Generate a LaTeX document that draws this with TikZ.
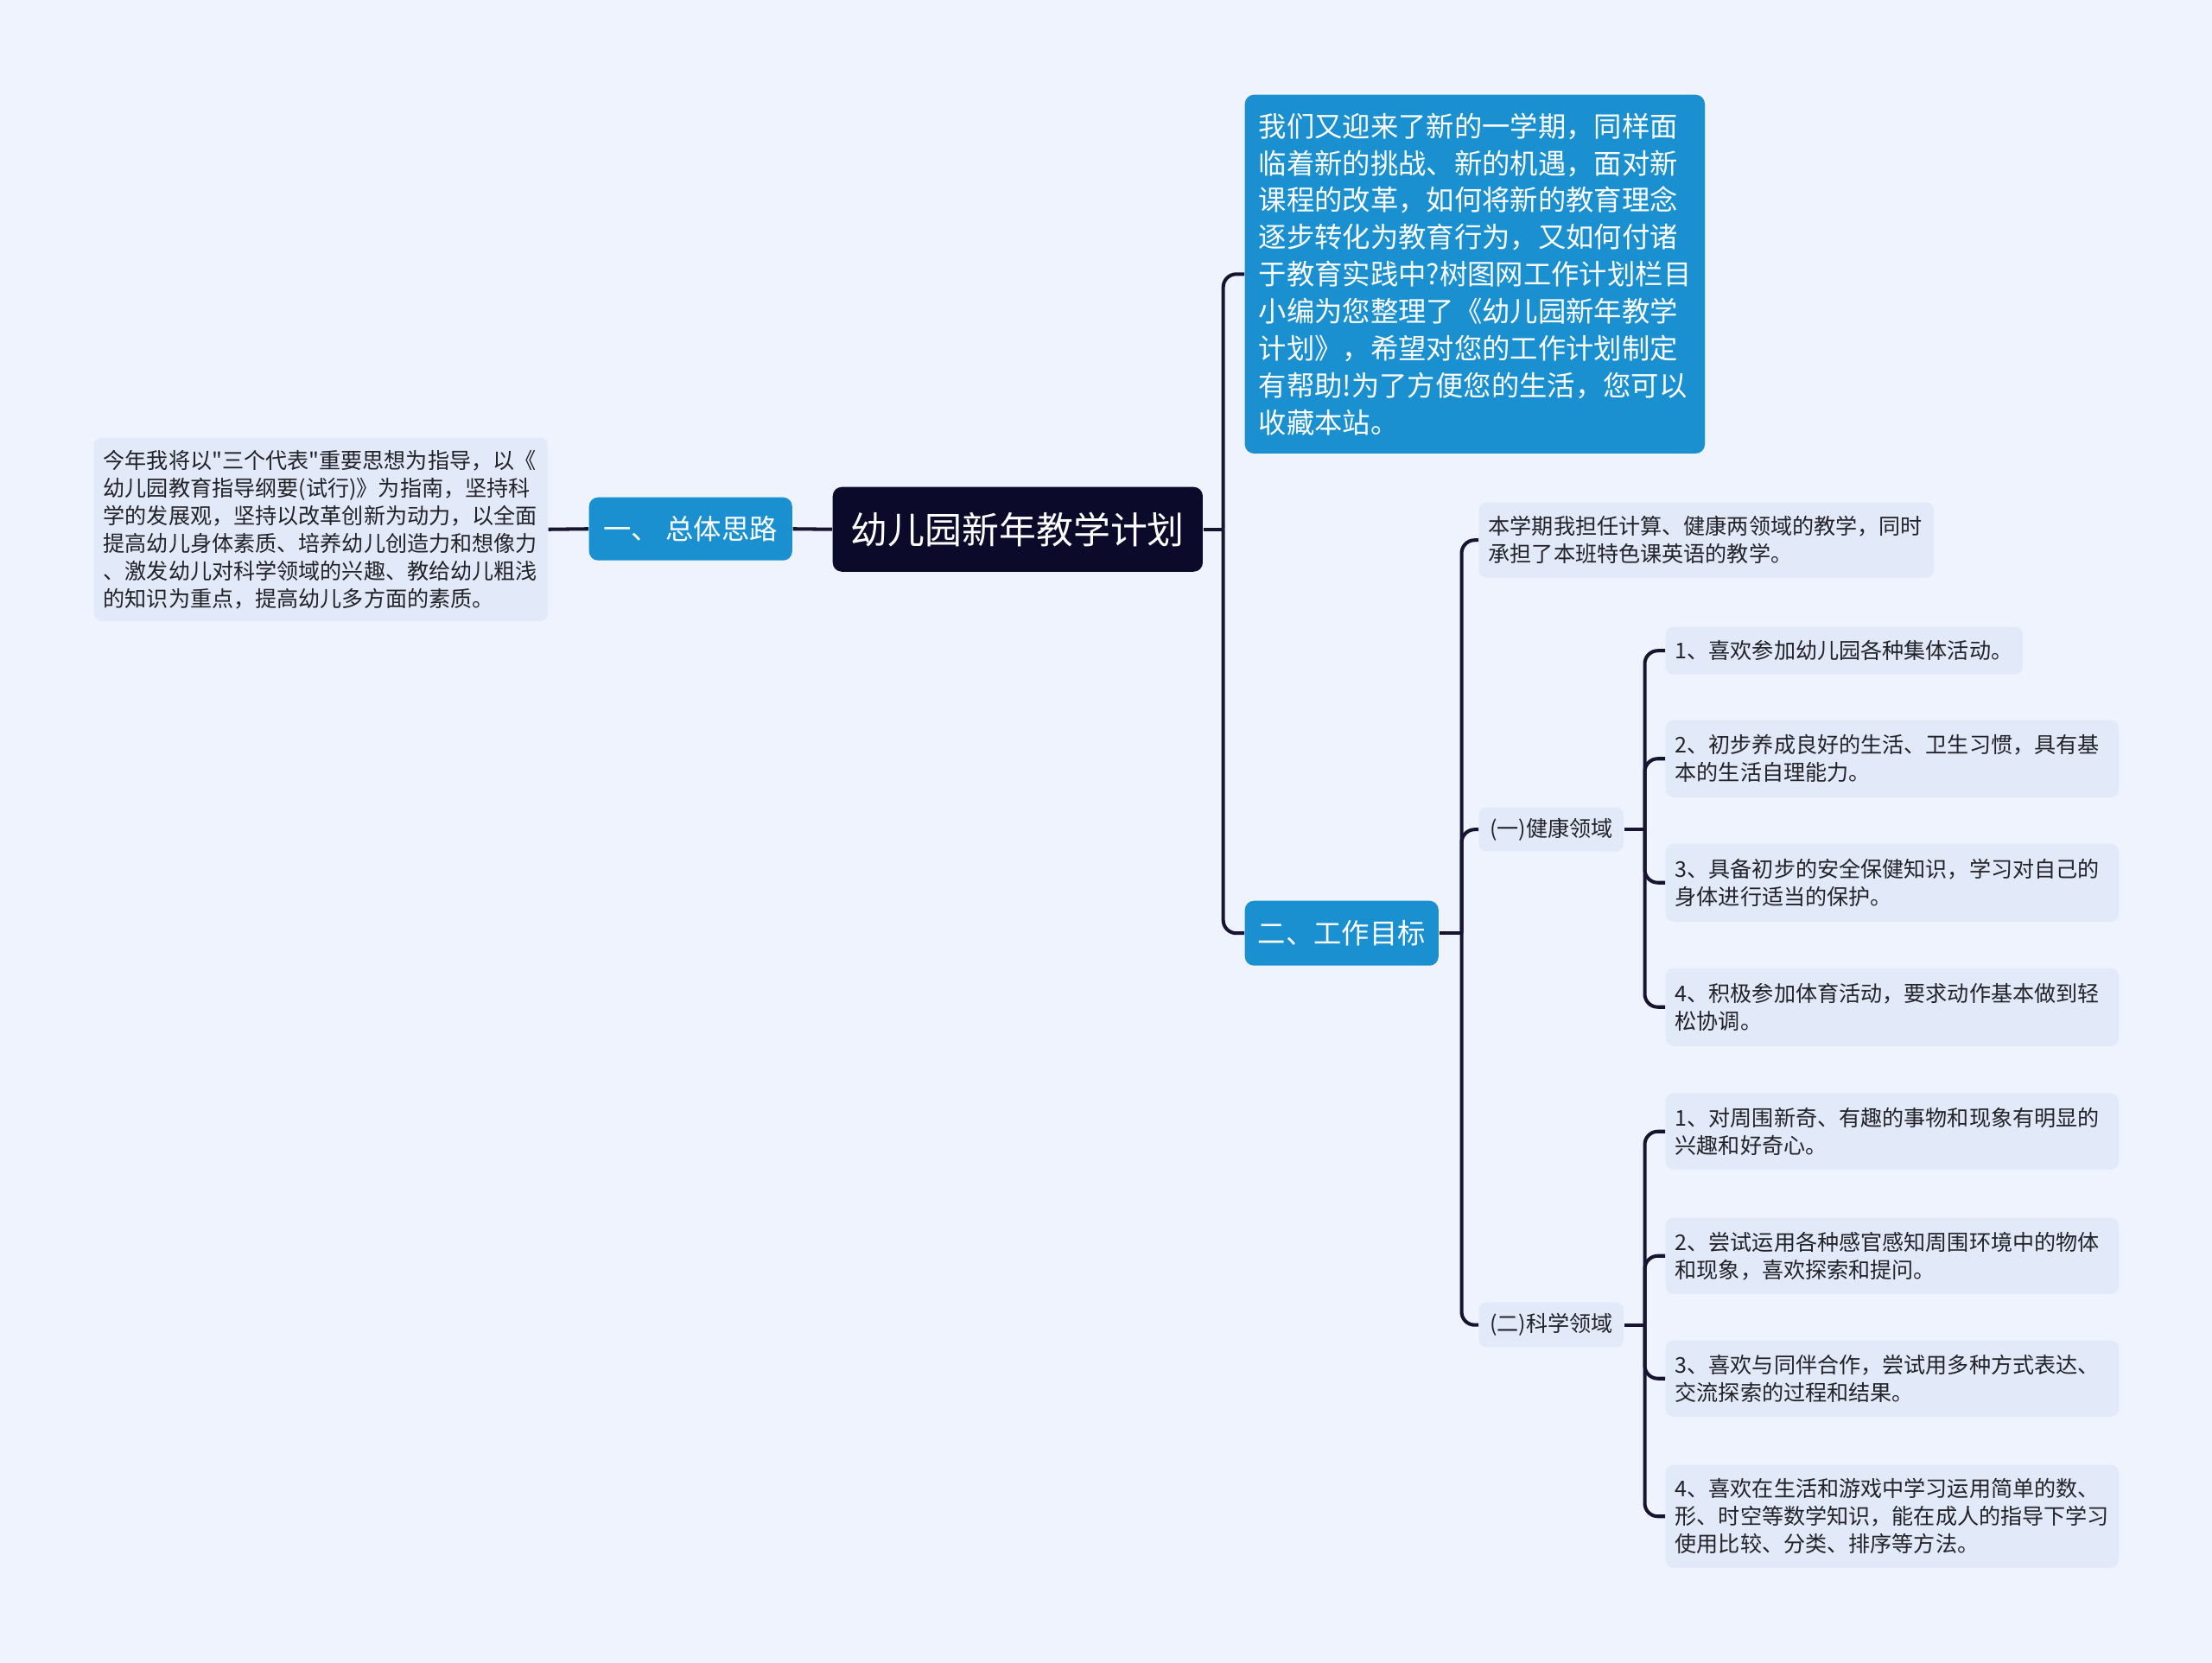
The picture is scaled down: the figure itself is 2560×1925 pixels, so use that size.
\documentclass[tikz,border=0pt]{standalone}
\usepackage{fontspec}
\setmainfont{Noto Sans CJK SC}[Ligatures=TeXOff]
\usepackage{xcolor}
\usepackage{tikz}
\usetikzlibrary{calc}
\definecolor{FondoPale}{RGB}{238,243,254}
\definecolor{AzulTema}{RGB}{26,144,208}
\definecolor{NavyRaiz}{RGB}{12,10,42}
\definecolor{HojaFill}{RGB}{226,234,250}
\definecolor{TintaLink}{RGB}{22,20,48}
\definecolor{TextoHoja}{RGB}{34,34,40}

\begin{document}
\begin{tikzpicture}[x=0.01cm,y=-0.01cm,
  raiz/.style={anchor=north west,fill=NavyRaiz,text=white,rounded corners=3pt,
    font=\fontsize{12.2pt}{14pt}\selectfont,inner sep=0pt,align=center},
  tema/.style={anchor=north west,fill=AzulTema,text=white,rounded corners=3pt,
    font=\fontsize{9.2pt}{12.2pt}\selectfont,inner sep=0pt,align=center},
  hoja/.style={anchor=north west,fill=HojaFill,text=TextoHoja,rounded corners=2.5pt,
    font=\fontsize{7.14pt}{9.1pt}\selectfont,inner xsep=0.11cm,inner ysep=0pt,align=left},
  link/.style={line width=1.15pt,TintaLink,rounded corners=4.3pt}]
  \fill[FondoPale] (0,0) rectangle (2560,1925);
  \useasboundingbox (0,0) rectangle (2560,1925);

  % centro y primera rama
  \node[raiz,minimum width=4.28cm,minimum height=0.98cm] (plan) at (963,563) {幼儿园新年教学计划};
  \node[tema,minimum width=2.35cm,minimum height=0.73cm] (silu) at (681,575) {一、 总体思路};
  \node[hoja,text width=5.03cm,minimum height=2.12cm] (zhidao) at (108,506)
    {今年我将以"三个代表"重要思想为指导，以《\\幼儿园教育指导纲要(试行)》为指南，坚持科\\学的发展观，坚持以改革创新为动力，以全面\\提高幼儿身体素质、培养幼儿创造力和想像力\\、激发幼儿对科学领域的兴趣、教给幼儿粗浅\\的知识为重点，提高幼儿多方面的素质。};

  \node[tema,align=left,inner xsep=0.16cm,text width=5.0cm,minimum height=4.15cm] (xueqi) at (1440,109)
    {我们又迎来了新的一学期，同样面\\临着新的挑战、新的机遇，面对新\\课程的改革，如何将新的教育理念\\逐步转化为教育行为，又如何付诸\\于教育实践中?树图网工作计划栏目\\小编为您整理了《幼儿园新年教学\\计划》，希望对您的工作计划制定\\有帮助!为了方便您的生活，您可以\\收藏本站。};
  \node[tema,minimum width=2.24cm,minimum height=0.75cm] (mubiao) at (1440,1042) {二、工作目标};

  % segunda rama
  \node[hoja,text width=5.04cm,minimum height=0.87cm] (danren) at (1711,581)
    {本学期我担任计算、健康两领域的教学，同时\\承担了本班特色课英语的教学。};
  \node[hoja,align=center,inner xsep=0pt,minimum width=1.67cm,minimum height=0.51cm] (jiankang) at (1711,934) {(一)健康领域};
  \node[hoja,align=center,inner xsep=0pt,minimum width=1.67cm,minimum height=0.52cm] (kexue) at (1711,1507) {(二)科学领域};

  \node[hoja,text width=3.91cm,minimum height=0.55cm] (jk1) at (1927,725) {1、喜欢参加幼儿园各种集体活动。};
  \node[hoja,text width=5.02cm,minimum height=0.89cm] (jk2) at (1927,833)
    {2、初步养成良好的生活、卫生习惯，具有基\\本的生活自理能力。};
  \node[hoja,text width=5.02cm,minimum height=0.90cm] (jk3) at (1927,976)
    {3、具备初步的安全保健知识，学习对自己的\\身体进行适当的保护。};
  \node[hoja,text width=5.02cm,minimum height=0.90cm] (jk4) at (1927,1120)
    {4、积极参加体育活动，要求动作基本做到轻\\松协调。};

  \node[hoja,text width=5.02cm,minimum height=0.88cm] (kx1) at (1927,1265)
    {1、对周围新奇、有趣的事物和现象有明显的\\兴趣和好奇心。};
  \node[hoja,text width=5.02cm,minimum height=0.88cm] (kx2) at (1927,1409)
    {2、尝试运用各种感官感知周围环境中的物体\\和现象，喜欢探索和提问。};
  \node[hoja,text width=5.02cm,minimum height=0.88cm] (kx3) at (1927,1551)
    {3、喜欢与同伴合作，尝试用多种方式表达、\\交流探索的过程和结果。};
  \node[hoja,text width=5.02cm,minimum height=1.19cm] (kx4) at (1927,1695)
    {4、喜欢在生活和游戏中学习运用简单的数、\\形、时空等数学知识，能在成人的指导下学习\\使用比较、分类、排序等方法。};

  % conectores
  \draw[link] (zhidao.east) -- (silu.west);
  \draw[link] (silu.east) -- (plan.west);
  \coordinate (j1) at ($(plan.east)+(23,0)$);
  \draw[link] (plan.east) -- (j1);
  \draw[link] (j1) |- (xueqi.west);
  \draw[link] (j1) |- (mubiao.west);
  \coordinate (j2) at ($(mubiao.east)+(26,0)$);
  \draw[link] (mubiao.east) -- (j2);
  \foreach \n in {danren,jiankang,kexue} \draw[link] (j2) |- (\n.west);
  \coordinate (j3) at ($(jiankang.east)+(24,0)$);
  \draw[link] (jiankang.east) -- (j3);
  \foreach \n in {jk1,jk2,jk3,jk4} \draw[link] (j3) |- (\n.west);
  \coordinate (j4) at ($(kexue.east)+(24,0)$);
  \draw[link] (kexue.east) -- (j4);
  \foreach \n in {kx1,kx2,kx3,kx4} \draw[link] (j4) |- (\n.west);
\end{tikzpicture}
\end{document}
